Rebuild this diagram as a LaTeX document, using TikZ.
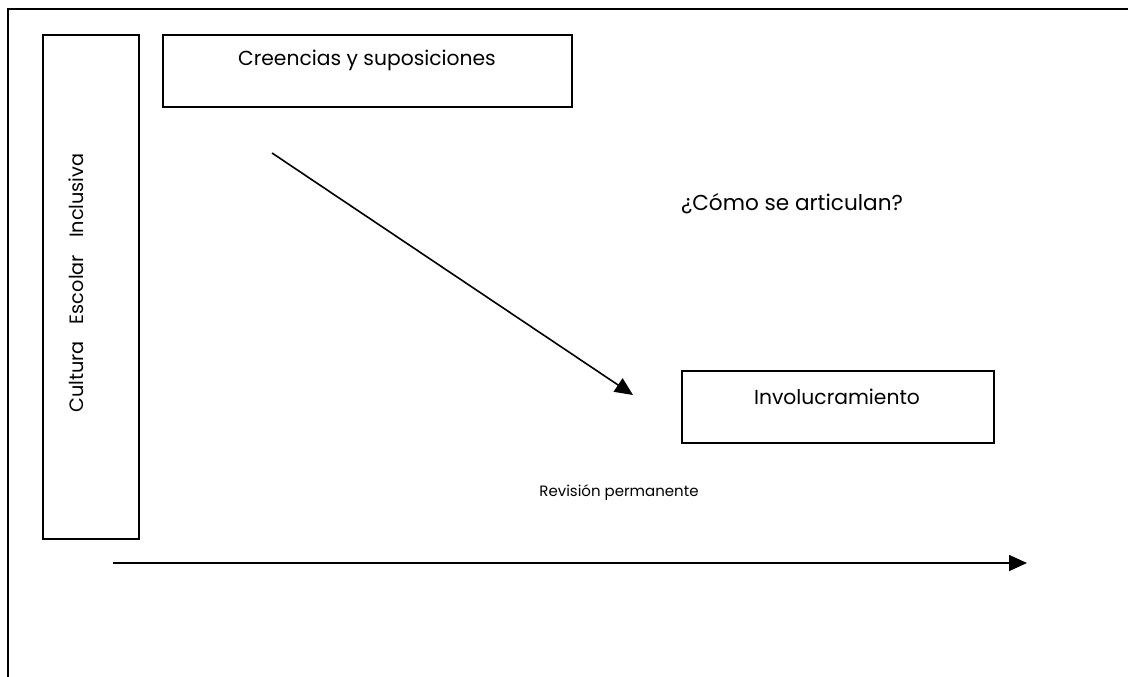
\documentclass[tikz,border=0pt]{standalone}
\usepackage{fontspec}
\setmainfont{Poppins}
\usetikzlibrary{arrows.meta}
\begin{document}
\begin{tikzpicture}[x=1pt,y=-1pt,
  frameline/.style={line width=2pt,black},
  boxnode/.style={draw,line width=2pt,inner sep=0pt,anchor=north west},
  label/.style={font=\fontsize{20.3}{24}\selectfont,inner sep=0pt},
  smalllabel/.style={font=\fontsize{15}{18}\selectfont,inner sep=0pt},
  arrowline/.style={line width=1.6pt,-{Triangle[length=18pt,width=16pt]}}]
  \useasboundingbox (0,0) rectangle (1128,677);
  % outer frame (top and left edges)
  \coordinate (fl) at (8,677);
  \coordinate (ft) at (8,9);
  \coordinate (fr) at (1128,9);
  \draw[frameline] (fl) -- (ft) -- (fr);
  % vertical box with rotated title
  \node[boxnode,minimum width=96pt,minimum height=504pt] (cult) at (42,34) {};
  \node[label,font=\fontsize{19.3}{23}\selectfont,rotate=90] (culttxt) at (76,283) {Cultura\hspace{17pt}Escolar\hspace{17pt}Inclusiva};
  % top box
  \node[boxnode,minimum width=409pt,minimum height=72pt] (cree) at (162,34) {};
  \node[label] (creetxt) at (367,60) {Creencias y suposiciones};
  % involvement box
  \node[boxnode,minimum width=312pt,minimum height=72pt] (invo) at (681,370) {};
  \node[label] (invotxt) at (837,397) {Involucramiento};
  % free labels
  \node[label,font=\fontsize{21.6}{26}\selectfont] (q) at (792,204) {¿Cómo se articulan?};
  \node[smalllabel] (rev) at (619,493) {Revisión permanente};
  % arrows
  \coordinate (d1) at (272,153);
  \coordinate (d2) at (633,395);
  \draw[arrowline] (d1) -- (d2);
  \coordinate (h1) at (113,563);
  \coordinate (h2) at (1027,563);
  \draw[arrowline] (h1) -- (h2);
\end{tikzpicture}
\end{document}
